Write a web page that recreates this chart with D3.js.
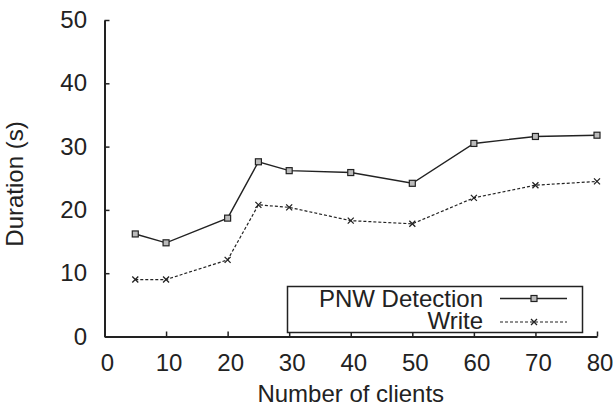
<!DOCTYPE html>
<html><head><meta charset="utf-8">
<script src="https://cdn.jsdelivr.net/npm/d3@7/dist/d3.min.js"></script>
<style>
html,body{margin:0;padding:0;background:#fff;}
svg{display:block;font-family:"Liberation Sans",Arial,sans-serif;}
</style></head>
<body>
<svg id="chart" width="613" height="410"></svg>
<script>
const clients = [5, 10, 20, 25, 30, 40, 50, 60, 70, 80];
const pnwDetection = [16.2, 14.8, 18.7, 27.6, 26.2, 25.9, 24.2, 30.5, 31.6, 31.8];
const writeDur = [9.0, 9.0, 12.1, 20.8, 20.4, 18.3, 17.8, 21.9, 23.9, 24.5];
const xTicks = [0, 10, 20, 30, 40, 50, 60, 70, 80];
const yTicks = [0, 10, 20, 30, 40, 50];
const seriesNames = ["PNW Detection", "Write"];

const svg = d3.select("#chart");
const x = d3.scaleLinear().domain([0, 80]).range([104.5, 597]);
const y = d3.scaleLinear().domain([0, 50]).range([336.5, 20]);
const ink = "#222";
const fs = 24;

// axes
const gx = svg.append("g").attr("transform", `translate(0,${y(0)})`)
  .call(d3.axisBottom(x).tickValues(xTicks).tickSizeInner(-5).tickSizeOuter(0).tickPadding(17.5));
const gy = svg.append("g").attr("transform", `translate(${x(0)},0)`)
  .call(d3.axisLeft(y).tickValues(yTicks).tickSizeInner(-5).tickSizeOuter(0).tickPadding(17.5));
[gx, gy].forEach(g => {
  g.select(".domain").attr("stroke", ink).attr("stroke-width", 2);
  g.selectAll(".tick line").attr("stroke", ink).attr("stroke-width", 1.5);
  g.selectAll(".tick text").attr("fill", ink).style("font-size", fs + "px")
    .style("font-family", '"Liberation Sans", Arial, sans-serif');
});
gx.selectAll(".tick text").attr("dx", 2.5);

// axis titles
svg.append("text").attr("x", (x(0) + x(80)) / 2).attr("y", 402)
  .attr("text-anchor", "middle").attr("fill", ink).style("font-size", fs + "px")
  .text("Number of clients");
svg.append("text").attr("transform", "translate(23,184) rotate(-90)")
  .attr("text-anchor", "middle").attr("fill", ink).style("font-size", fs + "px")
  .text("Duration (s)");

const line = d3.line().x(d => x(d[0])).y(d => y(d[1]));
const dataP = clients.map((c, i) => [c, pnwDetection[i]]);
const dataW = clients.map((c, i) => [c, writeDur[i]]);

svg.append("path").datum(dataP).attr("d", line).attr("fill", "none")
  .attr("stroke", ink).attr("stroke-width", 1.4);
svg.append("path").datum(dataW).attr("d", line).attr("fill", "none")
  .attr("stroke", ink).attr("stroke-width", 1.2).attr("stroke-dasharray", "3,2");

function square(g, cx, cy) {
  g.append("rect").attr("x", cx - 3).attr("y", cy - 3).attr("width", 6).attr("height", 6)
    .attr("fill", "#bbb").attr("stroke", ink).attr("stroke-width", 1.2);
}
function cross(g, cx, cy) {
  const s = 3;
  g.append("path").attr("d", `M${cx - s},${cy - s}L${cx + s},${cy + s}M${cx - s},${cy + s}L${cx + s},${cy - s}`)
    .attr("stroke", ink).attr("stroke-width", 1.3).attr("fill", "none");
}
const mk = svg.append("g");
dataP.forEach(d => square(mk, x(d[0]), y(d[1])));
dataW.forEach(d => cross(mk, x(d[0]), y(d[1])));

// legend
const lg = svg.append("g");
lg.append("rect").attr("x", 287.5).attr("y", 286.5).attr("width", 295).attr("height", 46)
  .attr("fill", "#fff").attr("stroke", ink).attr("stroke-width", 1.5);
const legY = [298.5, 322];
const legBase = [306.5, 328.5];
seriesNames.forEach((n, i) => {
  lg.append("text").attr("x", 483).attr("y", legBase[i]).attr("text-anchor", "end")
    .attr("fill", ink).style("font-size", fs + "px").text(n);
  lg.append("line").attr("x1", 500).attr("x2", 567).attr("y1", legY[i]).attr("y2", legY[i])
    .attr("stroke", ink).attr("stroke-width", i === 0 ? 1.4 : 1.2)
    .attr("stroke-dasharray", i === 0 ? null : "3,2");
  if (i === 0) square(lg, 534, legY[i]); else cross(lg, 534, legY[i]);
});
</script>
</body></html>
